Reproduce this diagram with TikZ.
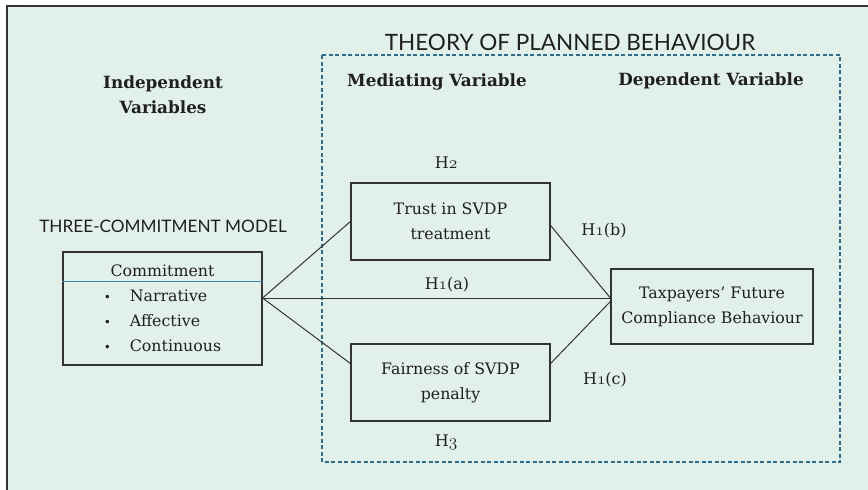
\documentclass[tikz,border=0pt]{standalone}
\usepackage{fontspec}
\setmainfont{DejaVu Serif}
\newfontfamily\gillfont{Lato}
\definecolor{mintbg}{HTML}{E2F0EA}
\definecolor{tpbblue}{HTML}{2D6E8F}
\definecolor{lineblue}{HTML}{3A86B0}
\newcommand{\hnum}[1]{$\mathnormal{#1}$}
\begin{document}
\begin{tikzpicture}[x=1pt,y=-1pt,font=\fontsize{15.8}{25}\selectfont,text=black!88]
\tikzstyle{var}=[draw=black!80, line width=1.2pt, align=center, inner sep=0pt]
\tikzstyle{head}=[font=\fontsize{16.8}{25}\selectfont\bfseries, align=center]
\tikzstyle{theory}=[font=\gillfont\fontsize{22.5}{24}\selectfont]
\tikzstyle{hyp}=[font=\fontsize{16}{20}\selectfont]
\tikzstyle{link}=[draw=black!80, line width=1pt]
\useasboundingbox (0,0) rectangle (868,490);
\fill[mintbg] (7,6) rectangle (868,490);
\draw[black!80, line width=1.6pt] (7,490) -- (7,6) -- (868,6);
\draw[tpbblue, line width=1.6pt, dash pattern=on 4pt off 2.5pt] (322,55) rectangle (840,462);
\node[theory] (tpb) at (570,42) {THEORY OF PLANNED BEHAVIOUR};
\node[head] (indep) at (163,95) {Independent\\Variables};
\node[head] (medi) at (437,82) {Mediating Variable};
\node[head] (depe) at (711,81) {Dependent Variable};
\node[theory, font=\gillfont\fontsize{17.2}{20}\selectfont] (tcm) at (163,226) {THREE-COMMITMENT MODEL};
\node[var, minimum width=199, minimum height=113] (commit) at (162.5,308.5)
  {\begin{tabular}{@{}r@{\hspace{19pt}}l@{}}
   \multicolumn{2}{c}{Commitment}\\
   {\fontsize{12}{12}\selectfont\textbullet} & Narrative\\
   {\fontsize{12}{12}\selectfont\textbullet} & Affective\\
   {\fontsize{12}{12}\selectfont\textbullet} & Continuous
   \end{tabular}};
\draw[lineblue, line width=1pt] ([yshift=-30pt]commit.north west) -- ([yshift=-30pt]commit.north east);
\node[var, minimum width=199, minimum height=77] (trust) at (450.5,221.5) {Trust in SVDP\\treatment};
\node[var, minimum width=199, minimum height=77] (fair) at (450.5,382.5) {Fairness of SVDP\\penalty};
\node[var, minimum width=202, minimum height=75] (tax) at (712,306.5) {Taxpayers' Future\\Compliance Behaviour};
\coordinate (hub) at ([yshift=10.5pt]commit.east);
\coordinate (tin) at (tax.west |- hub);
\draw[link] (hub) -- (trust.west);
\draw[link] (hub) -- ([yshift=19pt]fair.west);
\draw[link] (hub) -- (tin);
\draw[link] ([yshift=-4pt]trust.east) -- (tin);
\draw[link] ([yshift=19pt]fair.east) -- ([yshift=5pt]tax.west);
\node[hyp] (h2) at (446,163) {H\hnum{2}};
\node[hyp] (h3) at (446,442) {H\hnum{3}};
\node[hyp] (h1a) at (447,285) {H\hnum{1}(a)};
\node[hyp] (h1b) at (604,231) {H\hnum{1}(b)};
\node[hyp] (h1c) at (605,380) {H\hnum{1}(c)};
\end{tikzpicture}
\end{document}
